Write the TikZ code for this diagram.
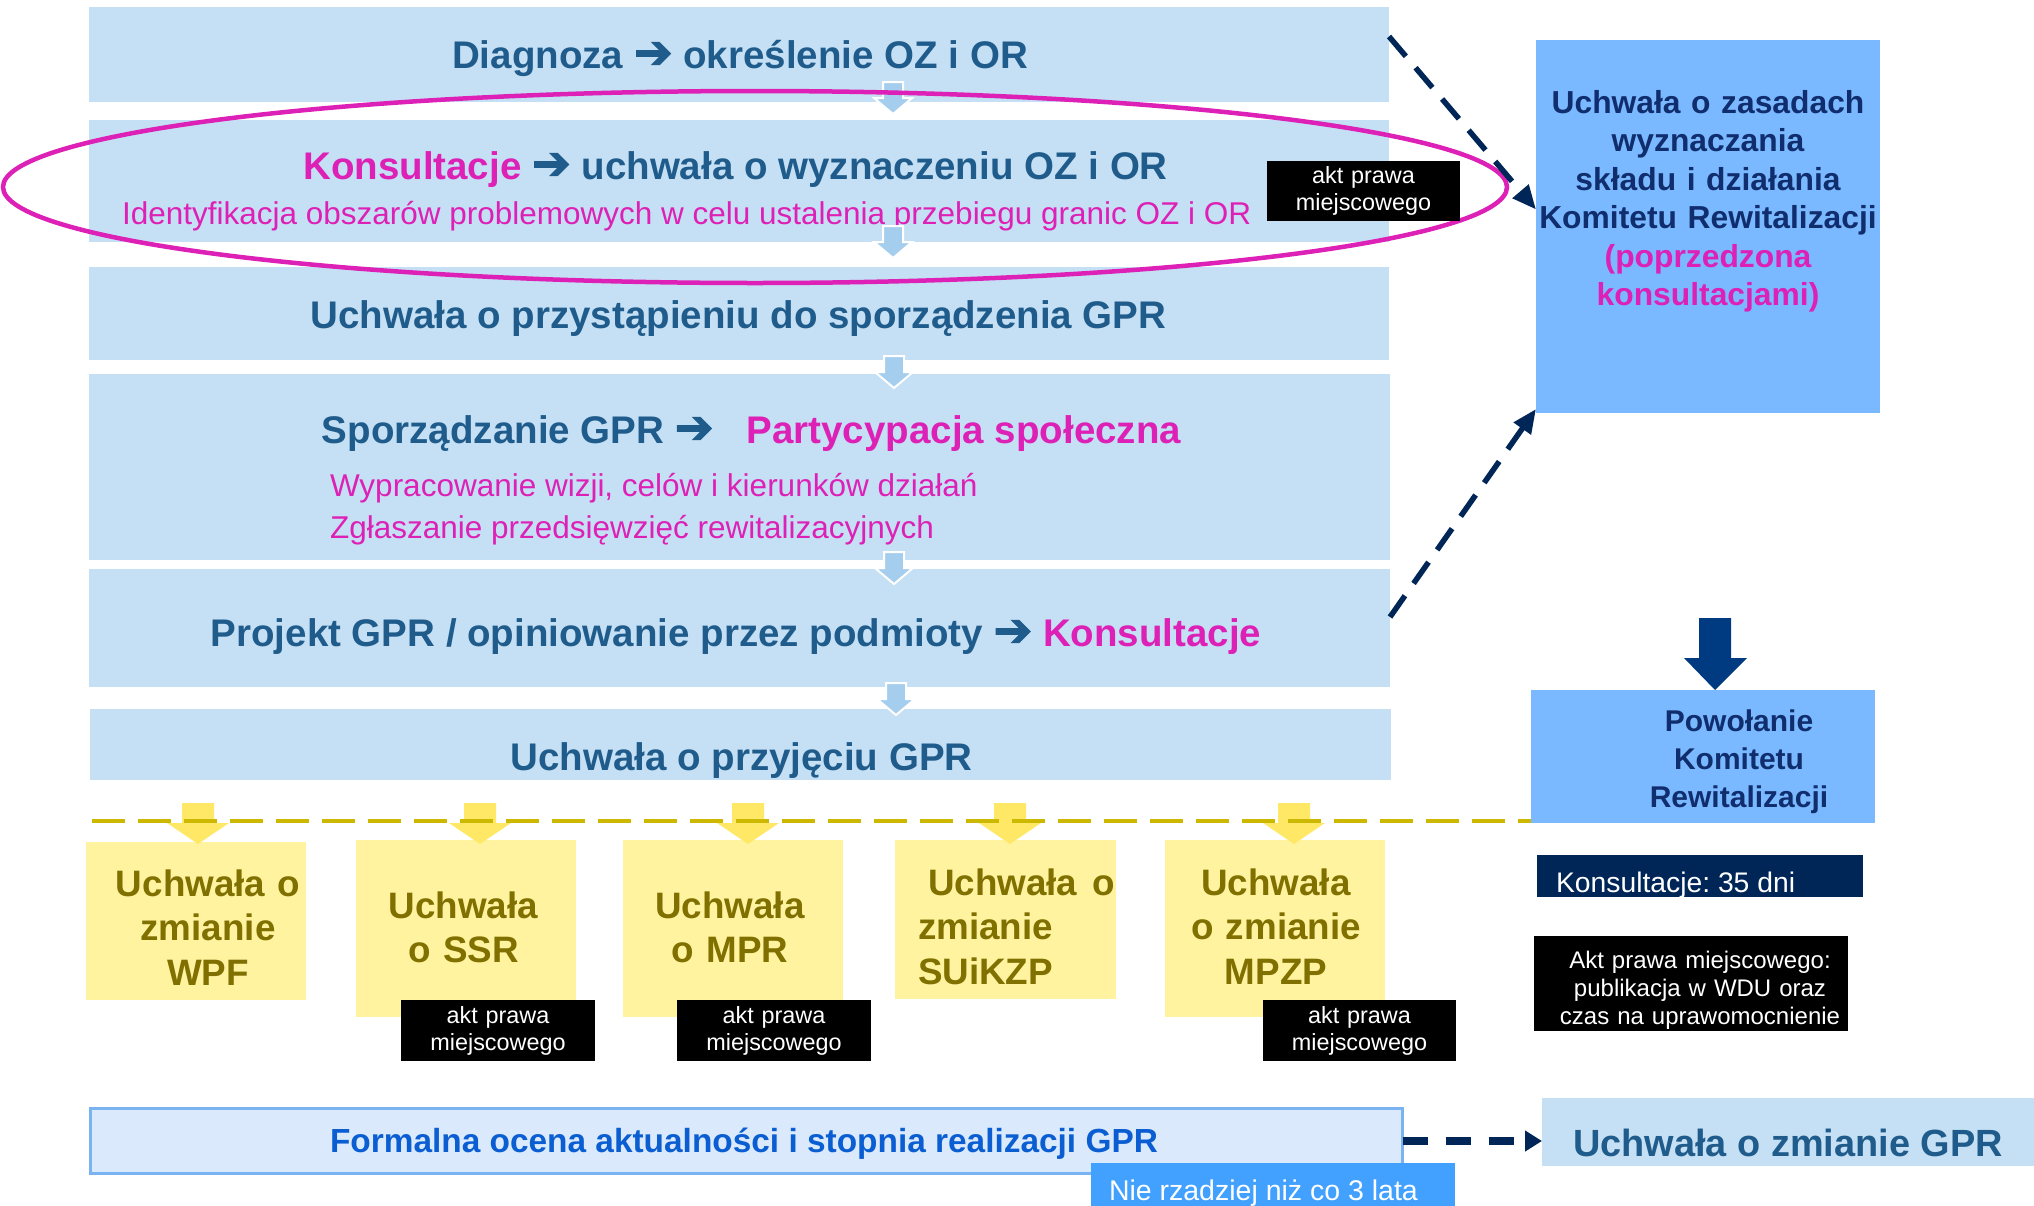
\documentclass[tikz,border=0pt]{standalone}
\usepackage{fontspec}
\setmainfont{Liberation Sans}
\setsansfont{Liberation Sans}
\newfontfamily\arrowfont{DejaVu Sans}[Scale = 1.2, FakeBold = 2.5]
\usetikzlibrary{arrows.meta, positioning, shapes.geometric}
\definecolor{boxcolor}{RGB}{197, 224, 244}
\definecolor{titlecolor}{RGB}{31, 92, 140}
\definecolor{pinkcolor}{RGB}{221, 32, 182}
\definecolor{smallarrowcolor}{RGB}{165, 205, 238}
\definecolor{komitetcolor}{RGB}{122, 184, 255}
\definecolor{navycolor}{RGB}{16, 46, 110}
\definecolor{darknavy}{RGB}{0, 38, 88}
\definecolor{bigarrowcolor}{RGB}{0, 59, 130}
\definecolor{yellowbox}{RGB}{255, 243, 160}
\definecolor{yellowarrow}{RGB}{255, 232, 102}
\definecolor{yellowline}{RGB}{205, 184, 0}
\definecolor{olivecolor}{RGB}{128, 112, 0}
\definecolor{formalnafill}{RGB}{218, 234, 252}
\definecolor{formalnaborder}{RGB}{122, 180, 240}
\definecolor{formalnatext}{RGB}{10, 94, 210}
\definecolor{rzadziejcolor}{RGB}{66, 160, 255}
\newcommand{\arrowsym}{{\arrowfont\mdseries ➔}}
\frenchspacing

\begin{document}
\begin{tikzpicture}[
  x = 1pt, y = -1pt,
  font = \sffamily,
  every node/.style = {inner sep = 0pt, outer sep = 0pt},
  stage/.style = {
    rectangle,
    fill = boxcolor,
    minimum width = 1300
  },
  stagetitle/.style = {
    anchor = base,
    text = titlecolor,
    font = \fontsize{38.5}{46}\selectfont\bfseries
  },
  stagenote/.style = {
    anchor = base west,
    text = pinkcolor,
    font = \fontsize{31.5}{38}\selectfont
  },
  aktlabel/.style = {
    rectangle,
    fill = black,
    text = white,
    align = center,
    text width = 190,
    minimum width = 194,
    minimum height = 61,
    font = \fontsize{23.4}{27}\selectfont
  },
  komitet/.style = {
    rectangle,
    fill = komitetcolor,
    minimum width = 344
  },
  komitettext/.style = {
    anchor = base,
    text = navycolor,
    align = center,
    text width = 380,
    font = \fontsize{31.8}{38.5}\selectfont\bfseries
  },
  whitetext/.style = {
    text = white,
    align = center,
    text width = 330
  },
  yellowcard/.style = {
    rectangle,
    fill = yellowbox,
    minimum width = 220
  },
  yellowtext/.style = {
    anchor = base,
    text = olivecolor,
    align = center,
    text width = 240,
    font = \fontsize{36.8}{44.5}\selectfont\bfseries
  },
  smallarrow/.style = {
    fill = smallarrowcolor,
    draw = white,
    line width = 2pt
  },
  dasharrow/.style = {
    draw = darknavy,
    line width = 5.5pt,
    dash pattern = on 26pt off 15pt,
    -{Triangle[length = 24pt, width = 20pt]}
  },
  yellowdash/.style = {
    draw = yellowline,
    line width = 4pt,
    dash pattern = on 33pt off 13pt
  }
]
\useasboundingbox (0,0) rectangle (2034,1205);
\fill[white] (0,0) rectangle (2034,1205);

% Stages
\node[stage, minimum height = 95] (diag) at (739, 54.5) {};
\node[stage, minimum height = 122] (kons) at (739, 181) {};
\node[stage, minimum height = 93] (przyst) at (739, 313.5) {};
\node[stage, minimum width = 1301, minimum height = 186] (sporz) at (739.5, 467) {};
\node[stage, minimum width = 1301, minimum height = 118] (projekt) at (739.5, 628) {};
\node[stage, minimum width = 1301, minimum height = 71] (przyj) at (740.5, 744.5) {};

\node[stagetitle] (diagT) at (740, 68) {Diagnoza \arrowsym{} określenie OZ i OR};
\node[stagetitle] (konsT) at (735.5, 179) {{\color{pinkcolor}Konsultacje} \arrowsym{} uchwała o wyznaczeniu OZ i OR};
\node[stagenote] (konsN) at (122, 224) {Identyfikacja obszarów problemowych w celu ustalenia przebiegu granic OZ i OR};
\node[stagetitle] (przystT) at (738.5, 328) {Uchwała o przystąpieniu do sporządzenia GPR};
\node[stagetitle] (sporzT) at (751.5, 443) {Sporządzanie GPR \arrowsym\hspace{33pt}{\color{pinkcolor}Partycypacja społeczna}};
\node[stagenote] (sporzN1) at (330, 496) {Wypracowanie wizji, celów i kierunków działań};
\node[stagenote] (sporzN2) at (330, 538) {Zgłaszanie przedsięwzięć rewitalizacyjnych};
\node[stagetitle] (projektT) at (736, 646) {Projekt GPR / opiniowanie przez podmioty \arrowsym{} {\color{pinkcolor}Konsultacje}};
\node[stagetitle] (przyjT) at (741.5, 770) {Uchwała o przyjęciu GPR};

% Small arrows between stages
\foreach \ax/\ay in {893/82, 893/226, 894/356, 894/552, 896/683}
  \filldraw[smallarrow] (\ax-10,\ay) -- (\ax+10,\ay) -- (\ax+10,\ay+16) -- (\ax+19,\ay+16)
    -- (\ax,\ay+32) -- (\ax-19,\ay+16) -- (\ax-10,\ay+16) -- cycle;

% Consultation ring
\node[draw = pinkcolor, line width = 4.5pt, ellipse, minimum width = 1504, minimum height = 192] (konsRing) at (755, 187) {};
\node[aktlabel, minimum width = 193, minimum height = 60] (akt1) at (1363.5, 191) {akt prawa\\miejscowego};

% Komitet column
\node[komitet, minimum height = 373] (zasady) at (1708, 226.5) {};
\node[komitettext] (zasadyT) at (1708, 113) {Uchwała o zasadach\\wyznaczania\\składu i działania\\Komitetu Rewitalizacji\\{\color{pinkcolor}(poprzedzona}\\{\color{pinkcolor}konsultacjami)}};
\node[komitet, minimum height = 133] (powol) at (1703, 756.5) {};
\node[komitettext, font = \fontsize{30}{38}\selectfont\bfseries] (powolT) at (1739, 731) {Powołanie\\Komitetu\\Rewitalizacji};
\fill[bigarrowcolor] (1699,618) -- (1731,618) -- (1731,658) -- (1747,658) -- (1715,690) -- (1684,658) -- (1699,658) -- cycle;

\node[rectangle, fill = darknavy, minimum width = 326, minimum height = 42] (konsDni) at (1700, 876) {};
\node[anchor = base west, text = white, font = \fontsize{28.3}{34}\selectfont] (konsDniT) at (1556, 892) {Konsultacje: 35 dni};
\node[rectangle, fill = black, minimum width = 314, minimum height = 95] (aktInfo) at (1691, 983.5) {};
\node[whitetext, anchor = base, font = \fontsize{24}{28}\selectfont] (aktInfoT) at (1700, 968) {Akt prawa miejscowego:\\publikacja w WDU oraz\\czas na uprawomocnienie};

% Follow-up resolutions
\node[yellowcard, minimum height = 158] (wpf) at (196, 921) {};
\node[yellowcard, minimum height = 177] (ssr) at (466, 928.5) {};
\node[yellowcard, minimum height = 177] (mpr) at (733, 928.5) {};
\node[yellowcard, minimum width = 221, minimum height = 159] (suikzp) at (1005.5, 919.5) {};
\node[yellowcard, minimum height = 177] (mpzp) at (1275, 928.5) {};

\node[yellowtext] (wpfT) at (208, 896) {Uchwała o\\zmianie\\WPF};
\node[yellowtext] (ssrT) at (463.5, 918) {Uchwała\\o SSR};
\node[yellowtext] (mprT) at (730, 918) {Uchwała\\o MPR};
\node[yellowtext, anchor = base west, align = left] (suikzpT) at (918, 895) {\hspace*{10pt}Uchwała\hspace{15pt}o\\zmianie\\SUiKZP};
\node[yellowtext] (mpzpT) at (1276, 895) {Uchwała\\o zmianie\\MPZP};

\node[aktlabel] (akt2) at (498, 1030.5) {akt prawa\\miejscowego};
\node[aktlabel] (akt3) at (774, 1030.5) {akt prawa\\miejscowego};
\node[aktlabel, minimum width = 193] (akt4) at (1359.5, 1030.5) {akt prawa\\miejscowego};

\foreach \ax in {198, 480, 748, 1010, 1294}
  \fill[yellowarrow] (\ax-16,803) -- (\ax+16,803) -- (\ax+16,823) -- (\ax+31,823)
    -- (\ax,844) -- (\ax-31,823) -- (\ax-16,823) -- cycle;

\coordinate (yellowStart) at (92, 821);
\draw[yellowdash] (yellowStart) -- (yellowStart -| powol.west);

% Evaluation
\node[rectangle, draw = formalnaborder, line width = 3pt, fill = formalnafill, minimum width = 1312, minimum height = 65] (formalna) at (746.5, 1141) {};
\node[stagetitle, text = formalnatext, font = \fontsize{33.4}{40}\selectfont\bfseries] (formalnaT) at (744, 1152) {Formalna ocena aktualności i stopnia realizacji GPR};
\node[rectangle, fill = rzadziejcolor, minimum width = 364, minimum height = 60] (rzadziej) at (1273, 1193) {};
\node[anchor = base west, text = white, font = \fontsize{28.5}{34}\selectfont] (rzadziejT) at (1109, 1200) {Nie rzadziej niż co 3 lata};
\node[stage, minimum width = 492, minimum height = 68] (zmianaGPR) at (1788, 1132) {};
\node[stagetitle, font = \fontsize{37.9}{46}\selectfont\bfseries] (zmianaGPRT) at (1788, 1156) {Uchwała o zmianie GPR};

% Arrows
\draw[dasharrow] ([yshift = 18]diag.east) -- ([yshift = 17]zasady.west);
\draw[dasharrow] ([yshift = 11]projekt.east) -- ([yshift = 4]zasady.south west);
\draw[dasharrow, line width = 7.5pt, dash pattern = on 25pt off 18pt, -{Triangle[length = 17pt, width = 20pt]}] (formalna.east) -- (formalna.east -| zmianaGPR.west);

\end{tikzpicture}
\end{document}
